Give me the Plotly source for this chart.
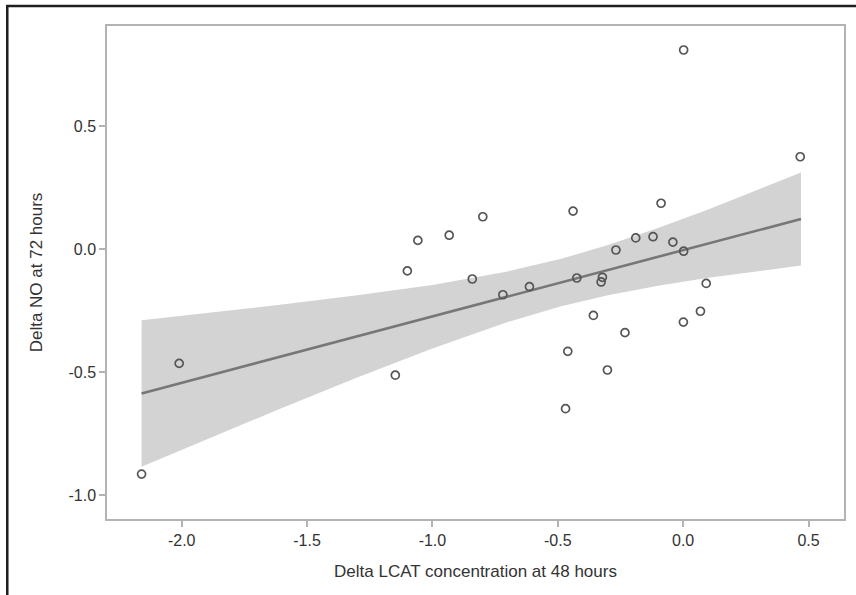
import plotly.graph_objects as go

# ---- data ----
lcat_48h = [-2.160, -2.010, -1.148, -1.100, -1.058, -0.933, -0.841, -0.799, -0.719, -0.613,
            -0.469, -0.460, -0.439, -0.424, -0.358, -0.327, -0.322, -0.302, -0.268, -0.232,
            -0.189, -0.120, -0.088, -0.041, 0.002, 0.002, 0.001, 0.069, 0.092, 0.467]
no_72h = [-0.915, -0.465, -0.513, -0.089, 0.035, 0.056, -0.122, 0.131, -0.186, -0.153,
          -0.649, -0.416, 0.154, -0.118, -0.270, -0.134, -0.115, -0.492, -0.004, -0.340,
          0.045, 0.050, 0.186, 0.028, -0.009, 0.809, -0.297, -0.253, -0.140, 0.375]

fit_x = [-2.16, 0.47]
fit_y = [-0.587, 0.122]

band_x = [-2.16, -1.9, -1.6, -1.3, -1.0, -0.7, -0.49, -0.3, -0.1, 0.1, 0.3, 0.47]
band_upper = [-0.290, -0.261, -0.226, -0.188, -0.146, -0.091, -0.041, 0.016, 0.085, 0.161, 0.241, 0.311]
band_lower = [-0.885, -0.773, -0.646, -0.522, -0.404, -0.297, -0.234, -0.188, -0.149, -0.117, -0.089, -0.067]

x_ticks = [-2.0, -1.5, -1.0, -0.5, 0.0, 0.5]
x_tick_labels = ["-2.0", "-1.5", "-1.0", "-0.5", "0.0", "0.5"]
y_ticks = [-1.0, -0.5, 0.0, 0.5]
y_tick_labels = ["-1.0", "-0.5", "0.0", "0.5"]

x_title = "Delta LCAT concentration at 48 hours"
y_title = "Delta NO at 72 hours"

FONT = "Liberation Sans, Arial, sans-serif"
TXT = "#333333"
AXC = "#b3b3b3"

fig = go.Figure()

# confidence band
fig.add_trace(go.Scatter(
    x=band_x + band_x[::-1],
    y=band_upper + band_lower[::-1],
    fill="toself", fillcolor="#d3d3d3",
    line=dict(width=0), mode="lines", hoverinfo="skip", showlegend=False))

# fit line
fig.add_trace(go.Scatter(
    x=fit_x, y=fit_y, mode="lines",
    line=dict(color="#777777", width=2.6), showlegend=False))

# points
fig.add_trace(go.Scatter(
    x=lcat_48h, y=no_72h, mode="markers",
    marker=dict(symbol="circle-open", size=8, color="#555555",
                line=dict(width=1.7, color="#555555")),
    showlegend=False))

L, R, T, B = 107, 846, 26, 519
W, H = 856, 595

def px_to_paper_x(px):
    return (px - L) / (R - L)

def px_to_paper_y(py):
    return (B - py) / (B - T)

fig.update_layout(
    width=W, height=H,
    margin=dict(l=L, r=W - R, t=T, b=H - B, pad=0),
    paper_bgcolor="white", plot_bgcolor="white",
    font=dict(family=FONT, size=16, color=TXT),
    shapes=[
        dict(type="line", xref="paper", yref="paper",
             x0=px_to_paper_x(7), x1=px_to_paper_x(7),
             y0=px_to_paper_y(600), y1=px_to_paper_y(5),
             line=dict(color="#1e1e1e", width=2.5)),
        dict(type="line", xref="paper", yref="paper",
             x0=px_to_paper_x(6), x1=px_to_paper_x(870),
             y0=px_to_paper_y(6), y1=px_to_paper_y(6),
             line=dict(color="#1e1e1e", width=2.5)),
    ],
)

fig.update_xaxes(
    range=[-2.2979, 0.6416], tickvals=x_ticks, ticktext=x_tick_labels,
    showgrid=False, zeroline=False,
    showline=True, mirror=True, linecolor=AXC, linewidth=1.5,
    ticks="outside", ticklen=6, tickwidth=1.5, tickcolor=AXC,
    tickfont=dict(size=16, color=TXT),
    title=dict(text=x_title, font=dict(size=17, color=TXT), standoff=17),
)
fig.update_yaxes(
    range=[-1.0976, 0.9065], tickvals=y_ticks, ticktext=y_tick_labels,
    showgrid=False, zeroline=False,
    showline=True, mirror=True, linecolor=AXC, linewidth=1.5,
    ticks="outside", ticklen=6, tickwidth=1.5, tickcolor=AXC,
    tickfont=dict(size=16, color=TXT),
    title=dict(text=y_title, font=dict(size=17, color=TXT), standoff=22),
)

fig.write_html("out.html",
               config={"displayModeBar": False},
               post_script="document.body.style.margin='0px';document.body.style.overflow='hidden';")
